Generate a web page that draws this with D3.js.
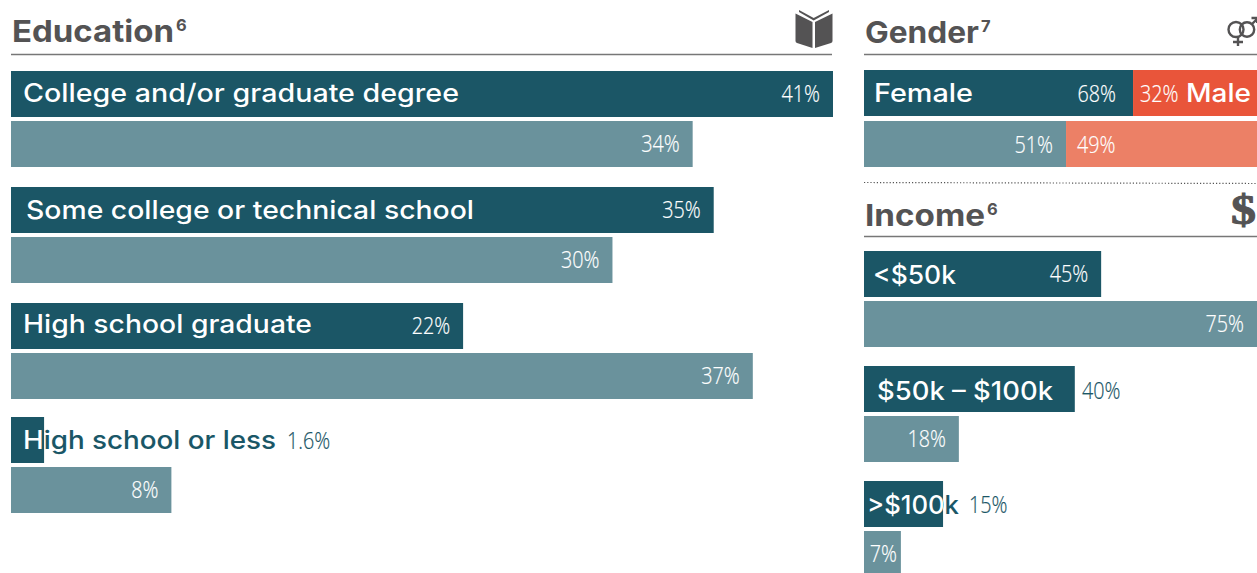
<!DOCTYPE html>
<html><head><meta charset="utf-8">
<script src="https://cdn.jsdelivr.net/npm/d3@7/dist/d3.min.js"></script>
<style>html,body{margin:0;padding:0;background:#fff;overflow:hidden}svg{display:block}</style>
</head><body><svg id="c" width="1257" height="573"></svg>
<script>
const eduCategories = ["College and/or graduate degree","Some college or technical school","High school graduate","High school or less"];
const eduPrimary = [41,35.05,22.55,1.65];
const eduPrimaryLabels = ["41%","35%","22%","1.6%"];
const eduSecondary = [34,30,37,8];
const incomeCategories = ["<$50k","$50k – $100k",">$100k"];
const incomePrimary = [45,40,15];
const incomeSecondary = [75,18,7];
const genderLabels = ["Female","Male"];
const genderPrimary = [68,32];
const genderSecondary = [51,49];

const DARK="#1b5666", LIGHT="#6a929c", RED="#e9553a", SALMON="#ec8066", GREY="#545354", RULE="#777";
const LABEL_FONT="Inter, 'Noto Sans', sans-serif", VALUE_FONT="'Open Sans','Noto Sans',sans-serif";
const svg=d3.select("#c"), defs=svg.append("defs");
let gradId=0;

function splitFill(x0,edge){
  const id="split"+(gradId++);
  const g=defs.append("linearGradient").attr("id",id).attr("gradientUnits","userSpaceOnUse")
    .attr("x1",x0).attr("x2",x0+1000).attr("y1",0).attr("y2",0);
  const o=(edge-x0)/1000;
  g.append("stop").attr("offset",o).attr("stop-color","#fff");
  g.append("stop").attr("offset",o).attr("stop-color",DARK);
  return `url(#${id})`;
}
function label(t,x,y,len,fill){
  svg.append("text").text(t).attr("x",x).attr("y",y).attr("font-family",LABEL_FONT)
    .attr("font-size",25.5).attr("font-weight",500).attr("textLength",len).attr("lengthAdjust","spacingAndGlyphs").attr("fill",fill);
}
function value(t,x,y,anchor,fill){
  const n=svg.append("text").text(t).attr("x",x).attr("y",y).attr("text-anchor",anchor)
    .attr("font-family",VALUE_FONT).attr("font-size",23.5).attr("font-weight",300).attr("fill",fill)
    .attr("stroke",fill).attr("stroke-width",0.2);
  const w=n.node().getComputedTextLength();
  n.attr("textLength",w*0.84).attr("lengthAdjust","spacingAndGlyphs");
}
function header(title,sup,x0,x1,base,ruleY,len){
  svg.append("text").text(title).attr("x",x0+1).attr("y",base).attr("font-family",LABEL_FONT)
    .attr("font-weight",700).attr("font-size",30).attr("fill",GREY)
    .attr("textLength",len).attr("lengthAdjust","spacingAndGlyphs");
  svg.append("text").text(sup).attr("x",x0+len+3).attr("y",base-11).attr("font-family",LABEL_FONT)
    .attr("font-weight",700).attr("font-size",16.5).attr("fill",GREY);
  svg.append("line").attr("x1",x0).attr("x2",x1).attr("y1",ruleY).attr("y2",ruleY)
    .attr("stroke",RULE).attr("stroke-width",1.4);
}

function groupChart(cats,prim,primLabels,sec,xs,ys,rowStep,barH,maxY,opt){
  cats.forEach((c,i)=>{
    const top=ys(c), w1=xs(prim[i])-xs(0), w2=xs(sec[i])-xs(0);
    svg.append("rect").attr("x",xs(0)).attr("y",top).attr("width",w1).attr("height",barH).attr("fill",DARK);
    const secH=Math.min(barH,maxY-(top+rowStep));
    svg.append("rect").attr("x",xs(0)).attr("y",top+rowStep).attr("width",w2).attr("height",secH).attr("fill",LIGHT);
    const o=opt[c];
    label(c,o.x,top+30.5+(o.dy||0),o.len,splitFill(xs(0),xs(prim[i])));
    if(o.out!==undefined) value(primLabels[i],o.out,top+31+(o.dy||0)/2,"start",DARK);
    else value(primLabels[i],xs(prim[i])-13,top+31,"end","#fff");
    const end=Math.min(xs(sec[i]),1257);
    value(sec[i]+"%",end-(w2<50?4:13),top+rowStep+31,"end","#fff");
  });
}

// ---- Education
header("Education","6",11,832,41.5,54.5,162);
const xEdu=d3.scaleLinear().domain([0,41]).range([11,833]);
const yEdu=d3.scaleOrdinal().domain(eduCategories).range([71,187,303,417]);
const cfgEdu={};
cfgEdu[eduCategories[0]]={x:23,len:436};
cfgEdu[eduCategories[1]]={x:26,len:448,dy:1};
cfgEdu[eduCategories[2]]={x:23,len:289,dy:-0.5};
cfgEdu[eduCategories[3]]={x:23,len:253,out:287,dy:1};
groupChart(eduCategories,eduPrimary,eduPrimaryLabels,eduSecondary,xEdu,yEdu,50,46,573,cfgEdu);
const book=svg.append("g").attr("fill",GREY);
book.append("path").attr("d","M795.5 13.5 L812.5 22 L812.5 48 L797 43 Q795.5 42.5 795.5 41 Z");
book.append("path").attr("d","M832.5 13.5 L815 22 L815 48 L831 43 Q832.5 42.5 832.5 41 Z");
book.append("path").attr("d","M799 10 L813.7 18 L829 10 L829 12 L813.7 20.5 L799 12 Z");

// ---- Gender
header("Gender","7",864,1257,43,54.5,114);
const xGen=d3.scaleLinear().domain([0,100]).range([864,1257]);
function genderRow(vals,y,c1,c2,nudge){
  const split=xGen(vals[0])+nudge;
  svg.append("rect").attr("x",xGen(0)).attr("y",y).attr("width",split-xGen(0)).attr("height",46).attr("fill",c1);
  svg.append("rect").attr("x",split).attr("y",y).attr("width",xGen(100)-split).attr("height",46).attr("fill",c2);
}
genderRow(genderPrimary,70,DARK,RED,1.8);
genderRow(genderSecondary,121,LIGHT,SALMON,1.6);
label(genderLabels[0],874,102,99,"#fff");
label(genderLabels[1],1186,102,65,"#fff");
value(genderPrimary[0]+"%",1116,102,"end","#fff");
value(genderPrimary[1]+"%",1140,102,"start","#fff");
value(genderSecondary[0]+"%",1053,153,"end","#fff");
value(genderSecondary[1]+"%",1077,153,"start","#fff");
const gi=svg.append("g").attr("fill","none").attr("stroke",GREY).attr("stroke-width",2.4);
gi.append("circle").attr("cx",1236).attr("cy",29.5).attr("r",7.5);
gi.append("circle").attr("cx",1247).attr("cy",29.5).attr("r",7.2);
gi.append("path").attr("d","M1238 37 V46 M1233 42 H1243 M1252 24 L1257 19 M1251.5 18 H1257 V23");

svg.append("line").attr("x1",864).attr("x2",1257).attr("y1",182.5).attr("y2",183.5)
  .attr("stroke","#555").attr("stroke-width",1.2).attr("stroke-dasharray","1.2 2");

// ---- Income
header("Income","6",864,1257,225.5,236.5,120);
const xInc=d3.scaleLinear().domain([0,75]).range([864,1259.25]);
const yInc=d3.scaleBand().domain(incomeCategories).range([251,596]);
const cfgInc={};
cfgInc[incomeCategories[0]]={x:873,len:83,dy:2};
cfgInc[incomeCategories[1]]={x:877,len:176,out:1082,dy:3};
cfgInc[incomeCategories[2]]={x:867,len:92,out:969,dy:2};
groupChart(incomeCategories,incomePrimary,incomePrimary.map(v=>v+"%"),incomeSecondary,xInc,yInc,50,46,573,cfgInc);
svg.append("text").text("$").attr("x",1231).attr("y",223.5).attr("textLength",25).attr("lengthAdjust","spacingAndGlyphs")
  .attr("font-family","'Liberation Serif','DejaVu Serif',serif").attr("font-weight",700).attr("font-size",43)
  .attr("fill",GREY).attr("stroke",GREY).attr("stroke-width",1);
</script></body></html>
